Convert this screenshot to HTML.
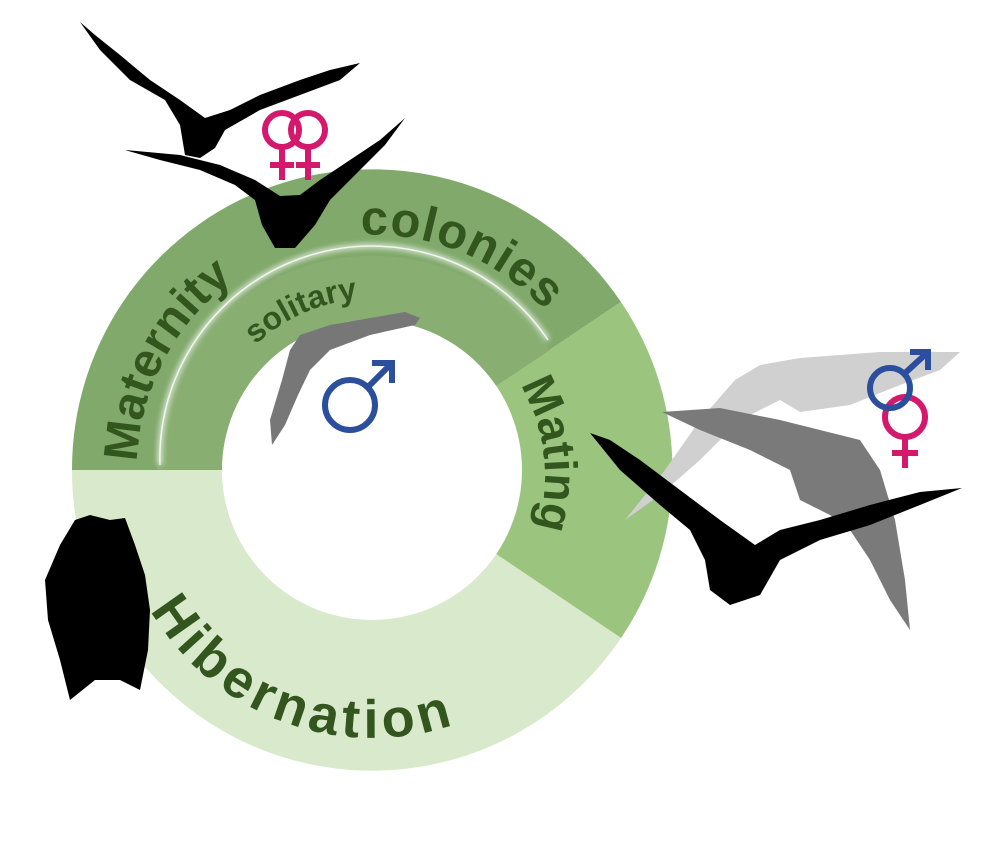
<!DOCTYPE html>
<html><head><meta charset="utf-8"><style>
html,body{margin:0;padding:0;background:#fff;width:1000px;height:850px;overflow:hidden}
svg{display:block}
text{font-family:"Liberation Sans",Arial,sans-serif;font-weight:bold;fill:#33561f}
</style></head><body>
<svg width="1000" height="850" viewBox="0 0 1000 850" xmlns="http://www.w3.org/2000/svg">
<defs>
<filter id="bl"><feGaussianBlur stdDeviation="3"/></filter>
<path id="pMat" d="M 137 470 A 235 235 0 0 1 576 353"/>
<path id="pSol" d="M 202 470 A 170 170 0 0 1 520 385"/>
<path id="pMating" d="M 520 385 A 175 175 0 0 1 520 565"/>
<path id="pHib" d="M 128 560 A 257 257 0 0 0 617 560"/>
</defs>
<path d="M 72 470 A 300 300 0 0 1 621 302 L 496 386 A 150 150 0 0 0 222 470 Z" fill="#80a96b"/>
<path d="M 621 302 A 300 300 0 0 1 621 638 L 496 554 A 150 150 0 0 0 496 386 Z" fill="#9bc57f"/>
<path d="M 621 638 A 300 300 0 0 1 72 470 L 222 470 A 150 150 0 0 0 496 554 Z" fill="#d8eacb"/>
<path d="M 157 470 A 215 215 0 0 1 550 350 L 496 386 A 150 150 0 0 0 222 470 Z" fill="#88ae72"/>
<path d="M 160 465 A 212 212 0 0 1 548 340" fill="none" stroke="#fff" stroke-width="4" filter="url(#bl)" opacity="0.9"/>
<path d="M 160 465 A 212 212 0 0 1 548 340" fill="none" stroke="#fff" stroke-width="1.5" opacity="0.8"/>
<circle cx="372" cy="470" r="150" fill="#fff"/>

<text font-size="48"><textPath href="#pMat" startOffset="8">Maternity</textPath></text>
<text font-size="49"><textPath href="#pMat" startOffset="358" letter-spacing="1">colonies</textPath></text>
<text font-size="32"><textPath href="#pSol" startOffset="140">solitary</textPath></text>
<text font-size="46"><textPath href="#pMating" startOffset="0">Mating</textPath></text>
<text font-size="54"><textPath href="#pHib" startOffset="55" letter-spacing="5">Hibernation</textPath></text>

<path d="M 420 318 L 405 312 L 330 325 L 300 335 L 290 350 L 282 380 L 270 420 L 272 445 L 285 425 L 298 395 L 310 370 L 330 350 L 370 335 L 415 325 Z" fill="#777"/>
<path d="M 960 352 L 880 352 L 800 358 L 760 365 L 735 380 L 700 420 L 665 470 L 625 520 L 660 495 L 700 460 L 740 420 L 780 400 L 800 412 L 850 405 L 900 385 L 940 370 Z" fill="#d0d0d0"/>
<path d="M 662 412 L 720 408 L 780 420 L 820 430 L 860 440 L 880 470 L 895 520 L 905 580 L 910 630 L 890 600 L 870 560 L 850 530 L 830 515 L 800 500 L 790 470 L 750 450 L 700 430 Z" fill="#7a7a7a"/>
<path d="M 80 22 L 100 50 L 130 80 L 165 100 L 180 125 L 185 155 L 200 158 L 215 148 L 225 130 L 260 110 L 300 95 L 340 80 L 360 63 L 330 70 L 300 80 L 260 95 L 230 110 L 205 118 L 180 100 L 150 80 L 120 55 L 95 35 Z" fill="#000"/>
<path d="M 125 150 L 160 160 L 200 170 L 235 185 L 255 200 L 262 225 L 275 248 L 295 248 L 315 225 L 330 200 L 360 170 L 385 145 L 405 118 L 380 140 L 350 160 L 320 180 L 300 195 L 280 196 L 255 180 L 220 165 L 180 155 Z" fill="#000"/>
<path d="M 590 433 L 620 470 L 660 505 L 690 530 L 705 560 L 710 590 L 730 605 L 760 595 L 780 560 L 820 540 L 870 525 L 920 505 L 962 488 L 920 492 L 870 505 L 820 520 L 780 530 L 755 545 L 720 520 L 680 490 L 640 460 L 610 440 Z" fill="#000"/>
<path d="M 75 520 L 90 515 L 110 520 L 125 518 L 135 545 L 145 575 L 150 610 L 148 650 L 140 690 L 120 680 L 95 680 L 70 700 L 60 660 L 48 620 L 45 580 L 60 545 Z" fill="#000"/>

<g fill="none" stroke="#d4186c" stroke-width="6">
<circle cx="282" cy="130" r="17"/><path d="M282 147 V180 M270 165 H294"/>
<circle cx="308" cy="130" r="17"/><path d="M308 147 V180 M296 165 H320"/>
<circle cx="905" cy="417" r="20"/><path d="M905 437 V468 M892 453 H918"/>
</g>
<g fill="none" stroke="#2b4f9c" stroke-width="6">
<circle cx="350" cy="405" r="25"/><path d="M368 387 L392 363 M372 363 H392 V383"/>
<circle cx="890" cy="388" r="20"/><path d="M904 374 L928 352 M910 352 H928 V370"/>
</g>
</svg>
</body></html>
